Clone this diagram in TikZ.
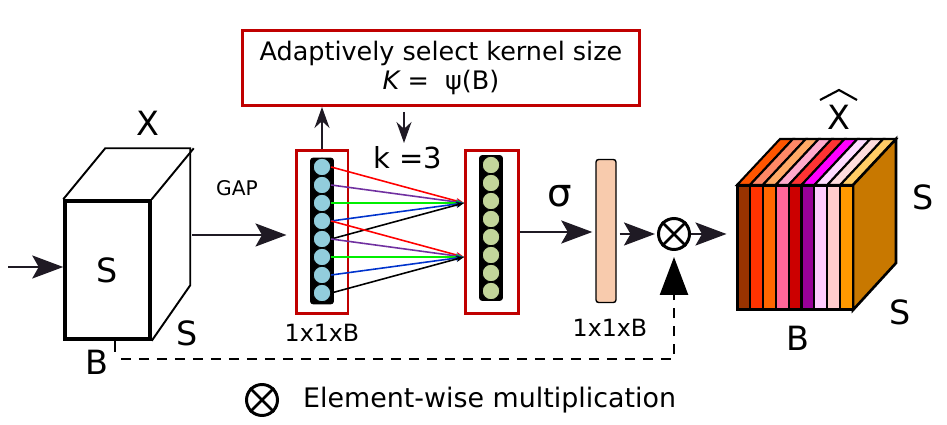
\documentclass[tikz,border=0pt]{standalone}
\usepackage{fontspec}
\setmainfont{DejaVu Sans}
\usetikzlibrary{arrows.meta,positioning,calc}

\definecolor{boxred}{HTML}{C00000}
\definecolor{arrowc}{HTML}{1F1A24}
\definecolor{cellblue}{HTML}{92CDDC}
\definecolor{cellgreen}{HTML}{C3D69B}
\definecolor{peach}{HTML}{F8CBAD}
\definecolor{kpurple}{HTML}{7030A0}
\definecolor{kgreen}{HTML}{00EE00}
\definecolor{kblue}{HTML}{0033CC}
\definecolor{sideorange}{HTML}{C87800}
% front stripes of the output cube
\definecolor{f1}{HTML}{993300}
\definecolor{f2}{HTML}{FF3300}
\definecolor{f3}{HTML}{FF6600}
\definecolor{f4}{HTML}{FF6699}
\definecolor{f5}{HTML}{CC0000}
\definecolor{f6}{HTML}{990099}
\definecolor{f7}{HTML}{FFCCFF}
\definecolor{f8}{HTML}{FFCCCC}
\definecolor{f9}{HTML}{FF9900}
% top stripes of the output cube
\definecolor{u1}{HTML}{FF5500}
\definecolor{u2}{HTML}{FF8866}
\definecolor{u3}{HTML}{FFAA66}
\definecolor{u4}{HTML}{FFAACC}
\definecolor{u5}{HTML}{FF3333}
\definecolor{u6}{HTML}{FF00FF}
\definecolor{u7}{HTML}{FFDDFF}
\definecolor{u8}{HTML}{FFDDDD}
\definecolor{u9}{HTML}{FFCC66}

\begin{document}
\begin{tikzpicture}[
  x=0.02cm, y=-0.02cm,
  redbox/.style={rectangle, draw=boxred, line width=1.7pt, inner sep=0pt},
  col/.style={rectangle, draw, fill=black, rounded corners=1.5pt, minimum width=4.6mm, inner sep=0pt},
  cell/.style={circle, draw=black, line width=0.5pt, inner sep=0pt, minimum size=3.5mm},
  bar/.style={rectangle, draw, line width=0.8pt, fill=peach, rounded corners=1.5pt, minimum width=4mm, minimum height=28.6mm, inner sep=0pt},
  mul/.style={circle, draw, line width=1.7pt, minimum size=6.2mm, inner sep=0pt},
  arrow/.style={-{Stealth[length=6.2mm, width=4.6mm, inset=1.3mm, fill=arrowc]}, line width=1.4pt, draw=arrowc},
  small arrow/.style={-{Stealth[length=4.2mm, width=3mm, fill=arrowc]}, line width=1.1pt, draw=arrowc},
  link/.style={-{Stealth[length=1.6mm, width=1.2mm]}, line width=0.9pt},
  skip/.style={dashed, dash pattern=on 2mm off 1.6mm, line width=1.4pt, -{Triangle[length=7.6mm, width=5.6mm]}},
  big/.style={font=\fontsize{19}{22}\selectfont, inner sep=0pt},
  dim/.style={font=\fontsize{13.5}{16}\selectfont},
]
\useasboundingbox (0,0) rectangle (947,425);

% === Input cube X ===
\node[rectangle, draw, line width=2pt, minimum width=17mm, minimum height=27.6mm, font=\fontsize{19}{22}\selectfont] (xin) at (107.5,270) {S};
\draw[line width=1.1pt] (xin.north west) -- ++(42,-51) -- ++(85,0) -- ++(0,137) -- (xin.south east);
\draw[line width=1.1pt] (xin.north east) -- ++(42,-51);
\draw[line width=1.4pt] ($(xin.south west)+(52,0)$) -- ++(0,11);
\node[big] (xlbl) at (148,123) {X};
\node[big] (sdepth) at (187,333) {S};
\node[big] (blbl) at (97,362) {B};

\coordinate (src) at (8,267);
\draw[arrow] (src) -- (src -| xin.west);

% === GAP vector ===
\node[redbox, minimum width=10.4mm, minimum height=32.6mm] (gapbox) at (322,232) {};
\node[col, minimum height=29.2mm] (gapcol) at (322,231) {};
\foreach \i in {1,...,8}
  \node[cell, fill=cellblue] (g\i) at (322,{167+18*(\i-1)}) {};
\node[dim] (dim1) at (322,333) {1x1xB};

\coordinate (xback) at (192,235);
\node[font=\fontsize{11.5}{14}\selectfont] (gaplbl) at (237,188) {GAP};
\draw[arrow, shorten >=1.6mm] (xback) -- (xback -| gapbox.west);

% === 1D conv output ===
\node[redbox, minimum width=10.6mm, minimum height=32.6mm] (convbox) at (492,232) {};
\node[col, minimum height=29mm] (convcol) at (491,228) {};
\foreach \i in {1,...,8}
  \node[cell, fill=cellgreen] (c\i) at (491,{165+18*(\i-1)}) {};

\coordinate (t1) at (convbox.west |- g3);
\coordinate (t2) at (convbox.west |- g6);
\foreach \s/\c in {1/red,2/kpurple,3/kgreen,4/kblue,5/black}
  \draw[link, \c] (g\s.east) -- (t1);
\foreach \s/\c in {4/red,5/kpurple,6/kgreen,7/kblue,8/black}
  \draw[link, \c] (g\s.east) -- (t2);

% === Kernel size selection ===
\node[redbox, minimum width=79.4mm, minimum height=15mm, align=center, font=\fontsize{14.5}{17}\selectfont] (sel) at (441,68)
  {Adaptively select kernel size\\{\itshape K} =\ \ ψ(B)};
\draw[small arrow] (gapbox.north) -- (gapbox.north |- sel.south);
\node[font=\fontsize{16.5}{20}\selectfont] (kval) at (408,158) {k =3};
\draw[small arrow, shorten <=1mm, shorten >=0.4mm] (sel.south -| 404,0) -- (404,145);

% === Sigmoid weights ===
\node[bar] (sig) at (606,231) {};
\node[font=\fontsize{22}{24}\selectfont] (siglbl) at (560,196) {σ};
\node[dim] (dim2) at (610,328) {1x1xB};
\draw[arrow, shorten >=0.6mm] (convbox.east) -- (convbox.east -| sig.west);

% === Multiply ===
\node[mul] (mul) at (674,234) {};
\draw[line width=1.5pt] (mul.45) -- (mul.225) (mul.135) -- (mul.315);
\draw[arrow, shorten <=0.6mm, shorten >=0.4mm] (sig.east |- mul) -- (mul.west);

% === Output cube X hat ===
\foreach \c [count=\i from 0] in {u1,u2,u3,u4,u5,u6,u7,u8,u9}
  \filldraw[fill=\c, line width=1.2pt] ({737+12.9*\i},185) -- ++(43,-46) -- ++(12.9,0) -- ++(-43,46) -- cycle;
\filldraw[fill=sideorange, line width=1.5pt] (853,185) -- (896,139) -- (896,263) -- (853,310) -- cycle;
\foreach \c [count=\i from 0] in {f1,f2,f3,f4,f5,f6,f7,f8,f9}
  \filldraw[fill=\c, line width=1.2pt] ({737+12.9*\i},185) rectangle ++(12.9,125);
\node[rectangle, draw, line width=1.7pt, minimum width=23.2mm, minimum height=25mm, inner sep=0pt] (xout) at (795,247.5) {};
\draw[arrow, shorten >=1.8mm] (mul.east) -- (xout.west |- mul);

\node[big] (xhat) at (839,117) {X};
\draw[line width=1.2pt] (820,100) -- (839,90) -- (857,100);
\node[big] (swidth) at (923,197) {S};
\node[big] (sdepth2) at (900,312) {S};
\node[big] (bout) at (798,338) {B};

% === Skip connection ===
\coordinate (skip) at (121,359);
\draw[skip, shorten >=1.2mm] (skip) -- (skip -| mul.south) -- (mul.south);

% === Legend ===
\node[mul] (lmul) at (262,400) {};
\draw[line width=1.5pt] (lmul.45) -- (lmul.225) (lmul.135) -- (lmul.315);
\node[font=\fontsize{15.3}{18}\selectfont, right=3.6mm of lmul] (ltext) {Element-wise multiplication};

\end{tikzpicture}
\end{document}
